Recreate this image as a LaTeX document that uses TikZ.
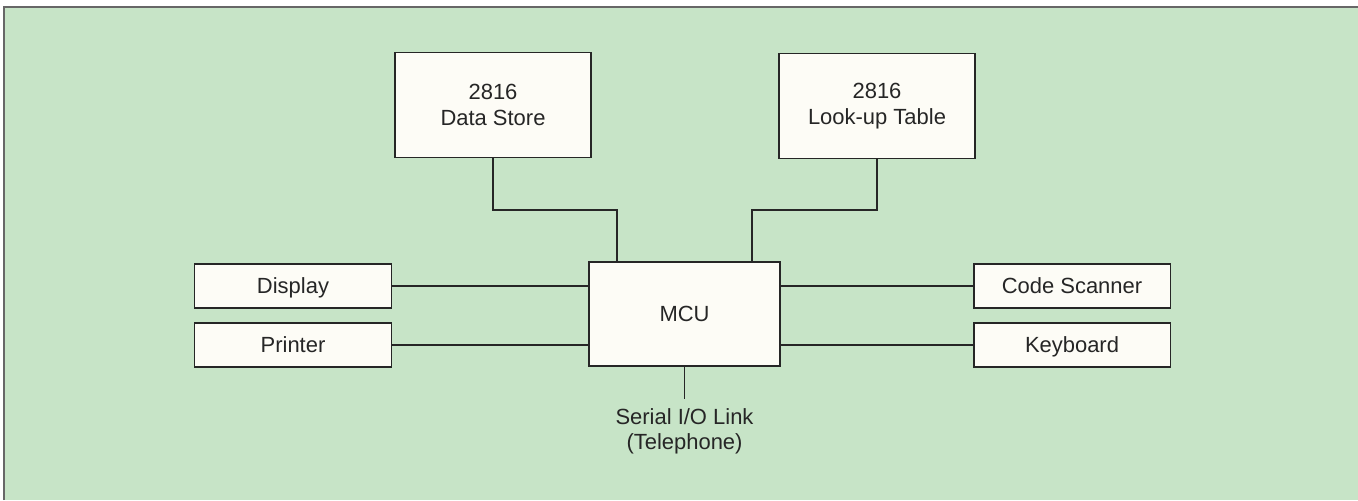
\documentclass[tikz,border=0pt]{standalone}
\usepackage{fontspec}
\setmainfont{Liberation Sans}
\usepackage{xcolor}
\usepackage{tikz}
\usetikzlibrary{positioning,calc}

\definecolor{panelgreen}{RGB}{199,228,199}
\definecolor{boxcream}{RGB}{253,252,246}
\definecolor{inkgray}{RGB}{38,38,38}

\begin{document}
\begin{tikzpicture}[x=0.02cm,y=-0.02cm,font=\fontsize{12.5}{14.4}\selectfont,
   every node/.style={text=inkgray}]
 \tikzset{membox/.style={draw=inkgray,line width=1.1pt,fill=boxcream,align=center,minimum width=3.92cm,minimum height=2.1cm,inner sep=0pt},
          iobox/.style={draw=inkgray,line width=1.1pt,fill=boxcream,align=center,minimum width=3.94cm,minimum height=0.89cm,inner sep=0pt,text height=8.8pt,text depth=0pt},
          wire/.style={draw=inkgray,line width=1.1pt}}
 % panel
 \useasboundingbox (0,0) rectangle (1358,500);
 \fill[white] (0,0) rectangle (1358,500);
 \fill[panelgreen] (4,7) rectangle (1358,500);
 \draw[inkgray!70,line width=0.8pt] (4,500) -- (4,7) -- (1358,7);
 % blocks
 \node[membox] (ds) at (493,105) {2816\\Data Store};
 \node[membox] (lut) at (877,106) {2816\\Look-up Table};
 \node[membox,minimum width=3.82cm,minimum height=2.08cm,text height=8.8pt,text depth=0pt] (mcu) at (684.5,314) {MCU};
 \node[iobox] (disp) at (293,286) {Display};
 \node[iobox] (prn) at (293,345) {Printer};
 \node[iobox] (scan) at (1072,286) {Code Scanner};
 \node[iobox] (kbd) at (1072,345) {Keyboard};
 \node[align=center,inner xsep=1pt,inner ysep=5pt,anchor=north] (ser) at (684.5,399) {Serial I/O Link\\(Telephone)};
 % links
 \coordinate (dsbend) at (617,210);
 \coordinate (lutbend) at (752,210);
 \draw[wire] (ds.south) |- (dsbend) -- (dsbend |- mcu.north);
 \draw[wire] (lut.south) |- (lutbend) -- (lutbend |- mcu.north);
 \draw[wire] (disp.east) -- (disp.east -| mcu.west);
 \draw[wire] (prn.east) -- (prn.east -| mcu.west);
 \draw[wire] (scan.west) -- (scan.west -| mcu.east);
 \draw[wire] (kbd.west) -- (kbd.west -| mcu.east);
 \draw[wire] (mcu.south) -- (ser.north);
\end{tikzpicture}
\end{document}
